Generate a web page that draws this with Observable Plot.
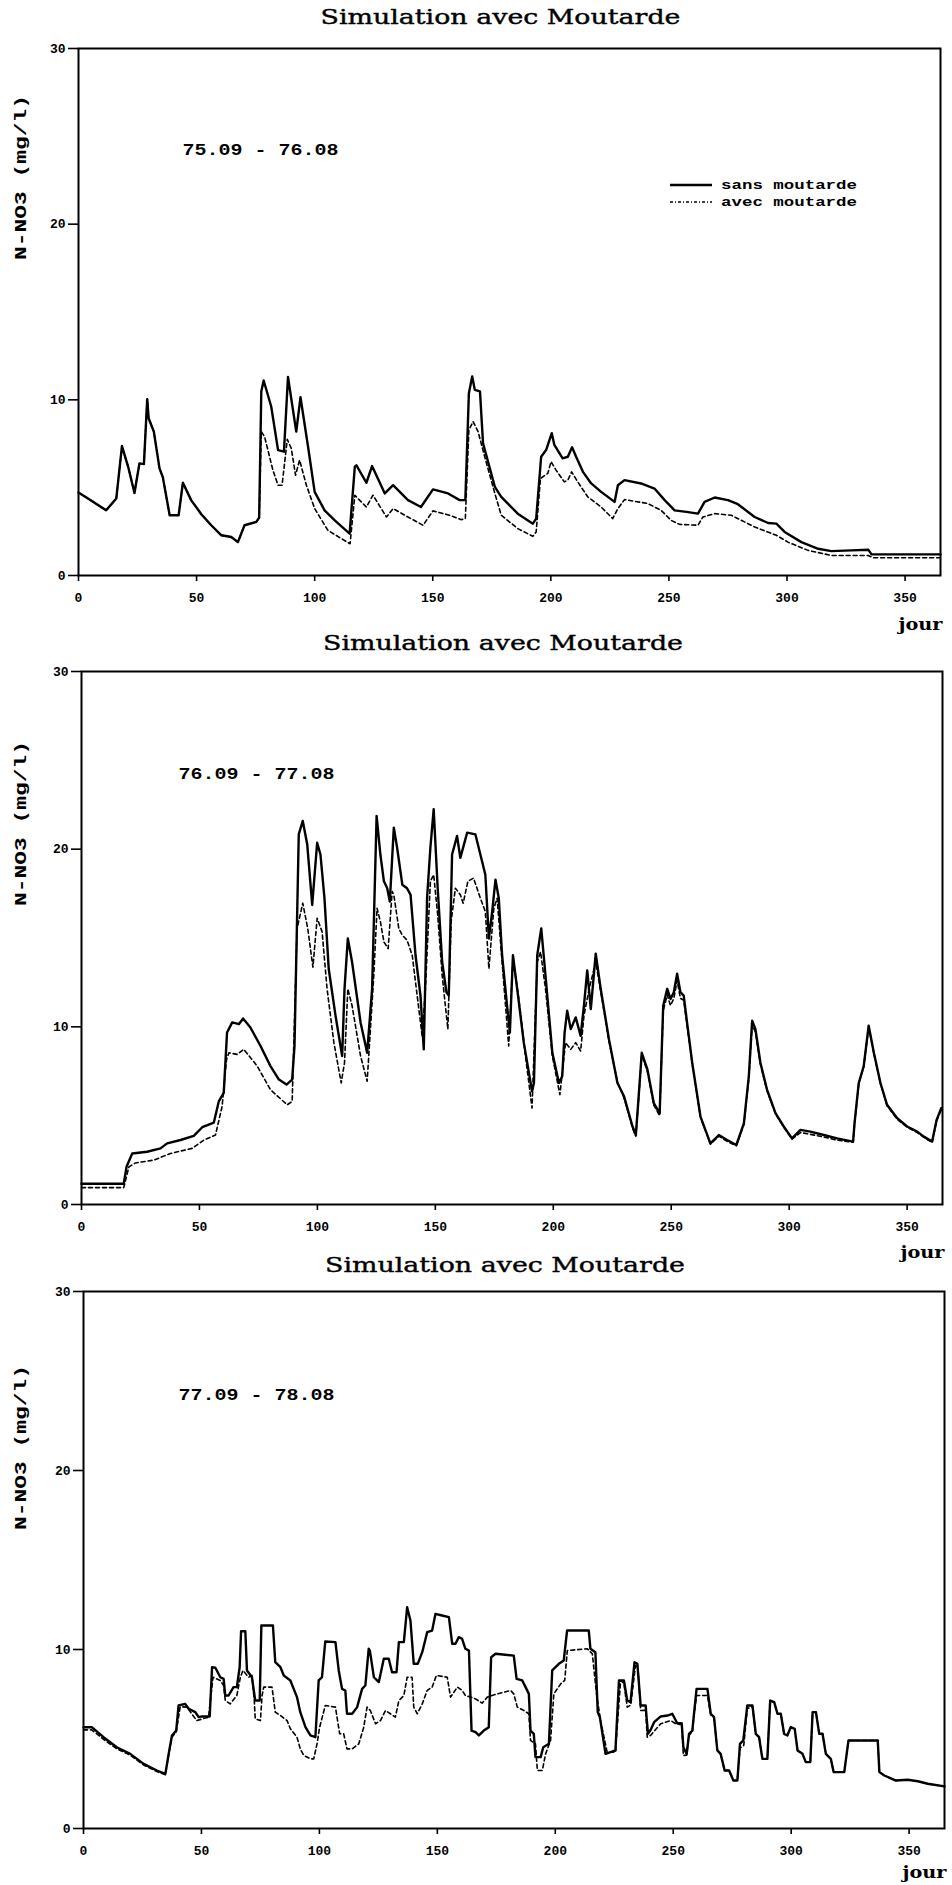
<!DOCTYPE html>
<html><head><meta charset="utf-8">
<script src="https://cdn.jsdelivr.net/npm/d3@7"></script>
<script src="https://cdn.jsdelivr.net/npm/@observablehq/plot@0.6"></script>
<style>
body{margin:0;background:#fff;}
#root{position:relative;width:952px;height:1885px;overflow:hidden;background:#fff;}
#root svg{position:absolute;left:0;}
</style></head><body><div id="root"></div>
<script>
// ---------- text & ticks ----------
const xTicks = [0, 50, 100, 150, 200, 250, 300, 350];
const yTicks = [0, 10, 20, 30];
const titleText = "Simulation avec Moutarde";
const yLabelText = "N-NO3 (mg/l)";
const xLabelText = "jour";
const periods = ["75.09 - 76.08", "76.09 - 77.08", "77.09 - 78.08"];
const seriesNames = ["sans moutarde", "avec moutarde"];

// ---------- data: [day, N-NO3 mg/l] ----------
const p1Sans = [[0,4.72],[5,4.3],[11.7,3.71],[16,4.38],[18.4,7.37],[21,6.2],[23.7,4.7],[25.8,6.38],[27.7,6.34],[29.1,10.04],[29.7,8.95],[31.9,8.19],[34.3,6.1],[35.7,5.6],[38.6,3.43],[42.4,3.43],[44.2,5.28],[47.7,4.29],[52,3.49],[56.2,2.86],[60.5,2.29],[64.7,2.19],[67.5,1.9],[70.3,2.86],[75.3,3.05],[76.5,3.3],[77.4,10.48],[78.4,11.1],[81.6,9.62],[84.5,7.14],[87,7.05],[88.7,11.3],[92.2,8.19],[94,10.15],[97.2,7.33],[100,4.76],[104.2,3.71],[108.5,3.14],[114.8,2.38],[117,6.19],[117.7,6.27],[121.9,5.28],[124.3,6.23],[129.7,4.67],[133.2,5.14],[139.5,4.29],[145,3.9],[150.1,4.9],[156.5,4.67],[161.4,4.29],[163.8,4.29],[165.3,10.38],[166.7,11.33],[167.8,10.57],[170,10.48],[171.3,7.52],[176.3,5.05],[179,4.48],[186,3.52],[192.4,2.95],[193.8,3.24],[195.9,6.76],[198,7.14],[200.4,8.1],[201.5,7.43],[205,6.67],[207.2,6.76],[209,7.3],[210.7,6.76],[213.6,5.9],[217.1,5.24],[221.3,4.76],[227,4.19],[228.4,5.14],[231.2,5.43],[238.2,5.24],[243.9,4.95],[248.2,4.29],[252.4,3.71],[257.4,3.62],[262.3,3.52],[265.1,4.19],[269.4,4.44],[275,4.29],[279.2,4.06],[286.3,3.33],[292,2.99],[295.5,2.95],[299,2.48],[306.1,1.9],[313.2,1.52],[318.8,1.39],[327.3,1.43],[334.4,1.47],[335.8,1.2],[348.5,1.2],[365,1.2]];
const p1Avec = [[0,4.72],[5,4.3],[11.7,3.71],[16,4.38],[18.4,7.37],[21,6.2],[23.7,4.7],[25.8,6.38],[27.7,6.34],[29.1,10.04],[29.7,8.95],[31.9,8.19],[34.3,6.1],[35.7,5.6],[38.6,3.43],[42.4,3.43],[44.2,5.28],[47.7,4.29],[52,3.49],[56.2,2.86],[60.5,2.29],[64.7,2.19],[67.5,1.9],[70.3,2.86],[75.3,3.05],[76.5,3.3],[77.4,8.19],[78.8,7.9],[82.3,6.0],[84.5,5.14],[86.2,5.14],[88.4,7.75],[90.1,7.24],[91.9,5.71],[93.6,6.57],[96.5,5.14],[100,3.81],[105.6,2.57],[111.3,2.1],[115,1.81],[117,4.57],[119,4.29],[121.9,3.9],[124.7,4.57],[130.4,3.33],[133.2,3.81],[139.5,3.33],[145.9,2.86],[150.1,3.68],[157.2,3.43],[162.1,3.18],[163.8,3.24],[165.3,8.29],[167.1,8.76],[169.2,8.19],[172,6.76],[176.3,4.67],[179,3.43],[186,2.67],[192.4,2.23],[193.8,2.48],[195.6,5.52],[198.7,5.81],[200.1,6.48],[202.2,6.0],[205.7,5.33],[207.2,5.43],[208.8,5.9],[211.4,5.33],[215.6,4.48],[221.3,3.9],[226.2,3.24],[228.4,3.81],[231.2,4.32],[241,4.1],[246.7,3.71],[250.9,3.14],[254.5,2.91],[262.3,2.86],[264.4,3.33],[269.4,3.52],[276.4,3.43],[286.3,2.76],[295.5,2.29],[300.4,1.9],[308.9,1.43],[318.8,1.14],[334.4,1.14],[336.5,1.01],[365,1.01]];

const p2Sans = [[0,1.17],[17.9,1.17],[19.1,2.12],[21.5,2.87],[27.8,2.97],[33.5,3.16],[36.3,3.44],[42,3.63],[47.6,3.86],[51.2,4.35],[56.1,4.61],[58.2,5.8],[60.3,6.28],[61.7,9.68],[63.9,10.25],[66.7,10.15],[68.5,10.47],[71.6,9.96],[75.9,8.92],[80.1,7.79],[83.7,7.03],[86.9,6.75],[89.3,7.03],[90.3,8.92],[92.1,20.83],[93.8,21.59],[95.7,20.26],[97.8,16.86],[99.9,20.36],[101.3,19.7],[103,17.24],[104.8,13.27],[107.7,10.62],[110.5,8.36],[111.5,12.14],[112.9,14.97],[114.7,13.65],[118.3,10.25],[121.1,8.54],[123.2,12.14],[125.1,21.87],[126.7,19.7],[128.2,18.19],[129.6,17.8],[130.7,17.05],[132.4,21.21],[133.8,20.08],[136,18],[138,17.8],[139.5,17.43],[141.6,14.03],[143.7,11.76],[145.1,8.73],[146.5,17.24],[147.9,20.08],[149.3,22.25],[151,17.8],[152.9,13.65],[154.7,11.95],[155.7,11.76],[157.1,19.7],[159.2,20.74],[160.6,19.51],[163.5,20.93],[167,20.83],[169.8,19.32],[171.2,18.56],[172.7,14.97],[174.1,16.48],[175.5,18.28],[176.9,17.24],[178.3,14.03],[180.4,11.19],[181.6,9.68],[182.9,14.03],[184.7,12.14],[187.5,9.11],[191,6.37],[191.8,6.84],[193.2,14.03],[194.9,15.54],[196.7,12.89],[199.6,8.54],[202.4,6.84],[203.8,7.22],[204.8,9.68],[205.9,10.91],[207.4,9.87],[209.5,10.53],[211.6,9.49],[213,11.19],[214.4,13.18],[215.9,11],[218,14.12],[220.1,12.14],[223.6,9.3],[227.2,6.84],[230,6.09],[233.6,4.39],[235,3.91],[236.1,5.9],[237.5,8.54],[239.9,7.6],[242.6,5.71],[245.1,5.14],[246.6,11.19],[248.3,12.14],[249.7,11.57],[251.1,11.95],[252.5,12.99],[253.9,11.95],[255.3,11.76],[256.7,10.25],[258.9,7.98],[262.4,4.95],[266.6,3.44],[270.2,3.91],[273.7,3.63],[277.6,3.35],[280.8,4.57],[282.9,7.22],[284.3,10.34],[285.7,9.87],[287.8,7.98],[290.6,6.47],[294.2,5.14],[297.7,4.39],[301.2,3.72],[304.8,4.2],[309,4.1],[314.7,3.91],[320.3,3.72],[327.1,3.54],[327.7,4.57],[329.5,6.84],[331.6,7.79],[333.7,10.06],[335.9,8.54],[338.7,6.84],[341.5,5.61],[345.8,4.86],[350,4.39],[354.3,4.1],[357.1,3.82],[360.6,3.54],[362.5,4.76],[364.5,5.43]];
const p2Avec = [[0,0.95],[17.9,0.95],[20.1,2.12],[22.9,2.34],[30.7,2.5],[37.7,2.87],[46.9,3.16],[51.9,3.63],[56.8,3.91],[59.6,5.52],[61.5,8.17],[62.5,8.54],[66,8.45],[68.8,8.73],[74.5,7.79],[80.1,6.46],[87.2,5.61],[89.3,5.8],[91.4,15.54],[93.8,16.96],[95.9,15.54],[98.1,13.36],[99.9,16.11],[102,15.35],[104.1,12.14],[107,9.11],[110.1,6.84],[111.5,7.98],[112.9,12.14],[114.7,11.19],[118.3,8.36],[121.1,6.94],[123.9,12.89],[125.3,16.67],[126.7,15.92],[128.2,14.78],[130,14.4],[131.7,17.62],[132.4,17.43],[134.5,15.54],[136,15.16],[138,14.88],[140.2,14.03],[142.3,11.76],[144.4,9.49],[145.8,12.14],[147.9,18.19],[149.3,18.56],[151,16.3],[152.9,12.89],[155.3,9.87],[156.7,15.92],[158.5,17.8],[160.6,17.43],[161.8,16.96],[163.8,18.19],[166.2,18.37],[169.1,17.24],[171.2,16.48],[172.7,13.27],[174.8,16.67],[176.2,17.24],[178.3,13.65],[181.1,8.92],[182.9,13.84],[185.4,11.57],[188.2,8.36],[191,5.43],[193.2,13.65],[194.6,14.22],[196.7,12.14],[199.6,8.36],[202.8,6.18],[205.2,9.11],[207.4,8.73],[209.5,9.11],[211.6,8.64],[213,10.62],[215.2,12.14],[218,13.65],[220.1,12.0],[223.6,9.2],[227.2,6.9],[230,6.0],[233.6,4.3],[235,3.85],[236.1,5.8],[237.5,8.4],[239.9,7.5],[242.6,5.6],[245.1,5.0],[246.6,10.9],[248.3,11.8],[249.7,11.2],[251.1,11.6],[252.5,12.6],[253.9,11.6],[255.3,11.5],[256.7,10.1],[258.9,7.9],[262.4,4.9],[266.6,3.4],[270.2,3.85],[273.7,3.55],[277.6,3.3],[280.8,4.5],[282.9,7.1],[284.3,10.1],[285.7,9.7],[287.8,7.9],[290.6,6.4],[294.2,5.1],[297.7,4.35],[301.2,3.68],[304.8,4.05],[309,3.95],[314.7,3.8],[320.3,3.62],[327.1,3.5],[327.7,4.5],[329.5,6.8],[331.6,7.75],[333.7,10.0],[335.9,8.5],[338.7,6.8],[341.5,5.55],[345.8,4.8],[350,4.35],[354.3,4.05],[357.1,3.78],[360.6,3.5],[362.5,4.7],[364.5,5.35]];

const p3Sans = [[0,5.66],[3.5,5.66],[8.5,5.1],[14.1,4.54],[19.8,4.17],[25.5,3.61],[31.1,3.24],[34.7,3.05],[36.1,4.17],[37.5,5.2],[39.3,5.47],[40.3,6.87],[43.1,6.96],[44.6,6.69],[47.4,6.5],[48.8,6.22],[50.2,6.26],[53.5,6.26],[54.5,9.01],[55.9,8.98],[58,8.45],[59.4,8.36],[60.1,7.43],[61.5,7.43],[63.6,7.9],[65,7.9],[66.2,9.01],[66.8,11.02],[68.6,11.02],[69.3,8.83],[71.4,8.45],[72.8,7.15],[74.7,7.15],[75.4,11.34],[80.3,11.34],[81.3,9.29],[83.5,9.01],[84.9,8.55],[87.7,8.27],[90.5,7.34],[91.9,6.5],[94.1,5.66],[96.2,5.2],[98.3,5.1],[99.7,8.27],[101.1,8.45],[102.5,10.45],[106.8,10.41],[108.2,8.83],[109.6,7.8],[111,7.71],[111.7,6.41],[113.9,6.41],[116,6.78],[118.1,7.8],[119.5,7.99],[120.9,10.04],[121.4,9.94],[123.1,8.45],[125.2,8.18],[127.3,9.48],[129.4,9.48],[130.8,8.73],[132.7,8.73],[133.7,10.41],[135.8,10.41],[137.2,12.36],[138.6,11.62],[140,9.2],[141.7,9.2],[143.6,9.85],[145.7,10.97],[147.8,11.06],[149.2,11.99],[152,11.9],[154.9,11.81],[156.3,10.32],[157.7,10.32],[159.1,10.69],[160.5,10.6],[161.9,10.04],[163.4,9.94],[164.5,5.47],[166.2,5.38],[167.6,5.2],[169.7,5.47],[171.8,5.66],[172.8,9.57],[174.7,9.76],[182.4,9.66],[183.6,8.36],[186,8.27],[187.4,7.9],[188.8,7.52],[189.5,5.47],[190.9,5.29],[191.6,3.99],[193.8,3.99],[194.9,4.54],[197.3,4.73],[198.7,8.83],[201.5,9.2],[203.6,9.39],[205,11.06],[214.2,11.06],[214.9,10.04],[217,9.85],[218,6.5],[218.9,6.22],[221.3,4.17],[225.5,4.36],[227,8.27],[229.1,8.27],[230.5,7.15],[231.9,7.06],[233.6,9.29],[234.8,9.2],[236.2,6.87],[238.3,6.87],[239.3,5.29],[240.4,5.5],[241.9,5.94],[244.7,6.26],[247.5,6.31],[249.6,6.41],[251.7,5.88],[253.6,5.88],[254.3,4.54],[255.7,4.17],[256.7,5.29],[258.1,5.47],[258.8,6.41],[259.9,7.8],[264.5,7.8],[265.9,6.41],[267.3,6.22],[268.7,4.36],[270.1,4.17],[271.8,3.24],[273.7,3.24],[275.5,2.68],[277.2,2.68],[278.3,4.73],[279.7,4.92],[281.4,6.87],[283.6,6.87],[285,5.29],[286.4,5.1],[287.8,3.89],[289.9,3.89],[291.1,7.15],[292.8,7.06],[294.2,6.41],[295.6,6.41],[297,5.29],[298.4,5.2],[299.8,5.66],[301.5,5.57],[302.7,4.36],[304.8,4.17],[306.2,3.71],[308.1,3.71],[309.1,6.5],[310.5,6.5],[311.9,5.29],[313.3,5.29],[314.7,4.17],[316.8,3.89],[318,3.15],[322.5,3.15],[324.3,4.92],[336.7,4.92],[337.4,3.15],[339.5,2.96],[344.4,2.68],[349.4,2.72],[353.7,2.64],[357.9,2.5],[365,2.35]];
const p3Avec = [[0,5.51],[3.5,5.51],[8.5,4.98],[14.1,4.45],[19.8,4.1],[25.5,3.55],[31.1,3.18],[34.7,3.0],[36.1,4.1],[37.5,5.1],[39.3,5.4],[41,6.8],[43.8,6.78],[48,6.03],[53,6.22],[54.9,8.45],[58,8.27],[59.4,7.99],[60.1,7.15],[62.2,6.96],[65,7.43],[66.5,8.45],[67.6,8.83],[70,8.45],[71.4,8.55],[72.4,7.15],[72.8,6.13],[75,6.03],[75.7,7.43],[76.4,7.9],[79.9,7.9],[81.3,6.5],[83.5,6.31],[86.3,6.03],[87.7,5.57],[90.5,5.1],[91.9,4.45],[93.4,4.08],[96.2,3.89],[97.6,3.89],[99,4.73],[100.1,5.66],[102.5,6.87],[106.8,6.78],[108.6,5.29],[110.3,5.29],[111.7,4.45],[113.9,4.45],[116.7,4.73],[118.8,5.66],[120.2,6.78],[121.6,6.59],[123.8,5.85],[125.9,6.03],[128,6.59],[130.1,6.41],[132.2,6.22],[133.7,7.15],[135.8,7.43],[137.2,8.45],[139.3,8.45],[140,6.78],[141.5,6.41],[143.6,6.96],[145.7,7.71],[147.8,7.9],[149.6,8.55],[154.2,8.45],[155.6,7.34],[158.5,7.9],[160.5,7.71],[161.9,7.43],[164.1,7.34],[166.2,7.24],[169,7.0],[171.2,7.34],[175.4,7.52],[181.1,7.71],[182.4,7.52],[183.9,6.78],[186.7,6.59],[188.8,6.41],[189.5,4.92],[191.6,4.73],[192.4,3.24],[194.5,3.24],[195.9,4.17],[198,4.92],[199.4,7.52],[202.3,8.08],[204,8.27],[205.1,9.94],[213.6,10.04],[215.7,9.76],[217.5,7.5],[219.2,6.03],[222,4.26],[225.5,4.26],[227.7,8.27],[229.1,8.1],[230.5,6.78],[232,6.9],[234,9.1],[235,9.0],[236.2,6.59],[238.3,6.6],[239,5.1],[240.4,5.2],[244.7,5.85],[248.9,6.03],[251.1,5.85],[253.6,5.8],[254.3,4.08],[255.7,4.1],[256.7,5.2],[258.1,5.4],[258.8,6.3],[259.9,7.43],[264.5,7.43],[265.9,6.35],[267.3,6.2],[268.7,4.36],[270.1,4.17],[271.8,3.24],[273.7,3.24],[275.5,2.68],[277.2,2.68],[278.3,4.5],[279.9,4.64],[281.4,6.7],[283.6,6.8],[285,5.29],[286.4,5.1],[287.8,3.89],[289.9,3.89],[291.1,7.15],[292.8,7.06],[294.2,6.41],[295.6,6.41],[297,5.29],[298.4,5.2],[299.8,5.66],[301.5,5.57],[302.7,4.36],[304.8,4.17],[306.2,3.71],[308.1,3.71],[309.1,6.5],[310.5,6.5],[311.9,5.29],[313.3,5.29],[314.7,4.17],[316.8,3.89],[318,3.15],[322.5,3.15],[324.3,4.92],[336.7,4.92],[337.4,3.15],[339.5,2.96],[344.4,2.68],[349.4,2.72],[353.7,2.64],[357.9,2.5],[365,2.35]];

const panelSans = [p1Sans, p2Sans, p3Sans];
const panelAvec = [p1Avec, p2Avec, p3Avec];

// ---------- layout (positions / styles) ----------
const layout = [
  {top: 0,    height: 640, mt: 48, mb: 65, ml: 78, mr: 12, titleDy: -31, labDx: -58, labDy: 129, perDx: 104, perDy: 101, jourDy: 49, legend: true},
  {top: 625,  height: 640, mt: 46, mb: 61, ml: 81, mr: 10, titleDy: -28, labDx: -61, labDy: 152, perDx: 97,  perDy: 102, jourDy: 48, legend: false},
  {top: 1245, height: 640, mt: 46, mb: 57, ml: 83, mr: 8,  titleDy: -26, labDx: -63, labDy: 156, perDx: 95,  perDy: 103, jourDy: 44, legend: false}
];
const FONT = "Liberation Mono, DejaVu Sans Mono, monospace";
const SERIF = "DejaVu Serif, Liberation Serif, serif";
const root = document.getElementById("root");

layout.forEach((L, i) => {
  const toRows = arr => arr.map(([d, v]) => ({day: d, val: v}));
  const sans = toRows(panelSans[i]);
  const avec = toRows(panelAvec[i]);
  const svg = Plot.plot({
    width: 952,
    height: L.height,
    marginTop: L.mt, marginBottom: L.mb, marginLeft: L.ml, marginRight: L.mr,
    style: {fontFamily: FONT, fontSize: "13px", fontWeight: "bold", background: "transparent", overflow: "visible", color: "#000"},
    x: {domain: [0, 365]},
    y: {domain: [0, 30]},
    marks: [
      Plot.line(avec, {x: "day", y: "val", stroke: "#000", strokeWidth: 1.6, strokeDasharray: "4,3"}),
      Plot.line(sans, {x: "day", y: "val", stroke: "#000", strokeWidth: 2.4, strokeLinejoin: "round"}),
      Plot.frame({stroke: "#000", strokeWidth: 2}),
      Plot.axisX(xTicks, {tickSize: 6, tickPadding: 11, label: null, fontWeight: "bold", fontSize: 13, stroke: "#000", strokeWidth: 1.6}),
      Plot.axisY(yTicks, {tickSize: 10, tickPadding: 3, label: null, fontWeight: "bold", fontSize: 13, stroke: "#000", strokeWidth: 1.6}),
      Plot.text([titleText], {text: d => d, frameAnchor: "top", dx: -9, dy: L.titleDy, fontSize: 21, fontFamily: SERIF, fontWeight: "normal", lineAnchor: "middle", stroke: "#000", strokeWidth: 0.4, fill: "#000"}),
      Plot.text([yLabelText], {text: d => d, frameAnchor: "top-left", dx: L.labDx, dy: L.labDy, rotate: -90, textAnchor: "middle", lineAnchor: "middle", fontSize: 17, fontWeight: "bold"}),
      Plot.text([periods[i]], {text: d => d, frameAnchor: "top-left", dx: L.perDx, dy: L.perDy, textAnchor: "start", lineAnchor: "middle", fontSize: 16, fontWeight: "bold"}),
      Plot.text([xLabelText], {text: d => d, frameAnchor: "bottom-right", dx: 2, dy: L.jourDy, textAnchor: "end", lineAnchor: "middle", fontSize: 17, fontFamily: SERIF, fontWeight: "bold"})
    ]
  });
  svg.style.top = L.top + "px";
  const s = d3.select(svg);
  const fit = (txt, len) => s.selectAll("text").filter(function () { return this.textContent === txt; })
    .attr("textLength", len).attr("lengthAdjust", "spacingAndGlyphs");
  fit(titleText, 360);
  fit(yLabelText, 165);
  fit(periods[i], 156);
  fit(xLabelText, 44);

  if (L.legend) {
    const right = 952 - L.mr;
    const g = s.append("g").attr("font-family", FONT).attr("font-size", 12)
      .attr("font-weight", "bold").attr("text-anchor", "start");
    const rowsY = [L.mt + 137, L.mt + 154];
    const dashes = [null, "3,2,1,2"];
    const widths = [2.4, 1.6];
    seriesNames.forEach((name, k) => {
      g.append("line").attr("x1", right - 270).attr("x2", right - 228)
        .attr("y1", rowsY[k]).attr("y2", rowsY[k])
        .attr("stroke", "#000").attr("stroke-width", widths[k])
        .attr("stroke-dasharray", dashes[k]);
      g.append("text").attr("x", right - 219).attr("y", rowsY[k]).attr("dy", "0.35em")
        .attr("text-anchor", "start")
        .attr("textLength", 136).attr("lengthAdjust", "spacingAndGlyphs").text(name);
    });
  }
  root.appendChild(svg);
});
</script></body></html>
